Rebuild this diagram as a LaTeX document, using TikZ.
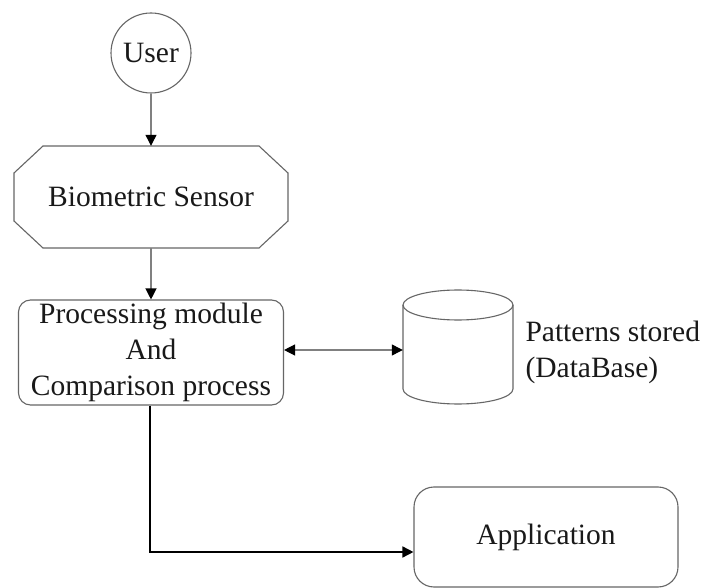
\documentclass[tikz,border=0pt]{standalone}
\usepackage{fontspec}
\setmainfont{Liberation Serif}
\usetikzlibrary{arrows.meta}
\begin{document}
\begin{tikzpicture}[x=1pt,y=-1pt,
  every node/.style={font=\fontsize{29.5}{36}\selectfont, text=black!90},
  outline/.style={draw=black!60, line width=1.1pt},
  conn/.style={draw=black!50, line width=1.2pt, -{Triangle[length=11pt,width=11pt,fill=black,color=black]}},
  dconn/.style={draw=black!50, line width=1.2pt, {Triangle[length=11pt,width=11pt,fill=black,color=black]}-{Triangle[length=11pt,width=11pt,fill=black,color=black]}},
  bconn/.style={draw=black, line width=1.6pt, -{Triangle[length=11pt,width=11pt]}},
  boxnode/.style={outline, rounded corners=12pt, align=center, inner sep=0pt}
]
\useasboundingbox (0,0) rectangle (710,588);
\fill[white] (0,0) rectangle (710,588);

% User
\node[outline, circle, minimum size=80pt, inner sep=0pt] (user) at (151,53) {User};

% Biometric sensor (octagon)
\node[minimum width=274pt, minimum height=102pt, inner sep=0pt] (sensor) at (151,197) {Biometric Sensor};
\draw[outline] (43,146) -- (259,146) -- (288,173) -- (288,221) -- (259,248)
  -- (43,248) -- (14,221) -- (14,173) -- cycle;

% Processing module
\node[boxnode, minimum width=265pt, minimum height=105pt] (proc) at (151,352.5)
  {Processing module\\And\\Comparison process};

% Database cylinder
\node[minimum width=110pt, minimum height=114pt, inner sep=0pt] (db) at (458,347) {};
\draw[outline] (403,305) -- (403,389)
  arc[start angle=180, end angle=360, x radius=55pt, y radius=15pt]
  -- (513,305);
\draw[outline] (458,305) ellipse[x radius=55pt, y radius=15pt];

\node[anchor=west, align=left] (dblabel) at (522,352) {Patterns stored\\(DataBase)};

% Application
\node[boxnode, rounded corners=20pt, minimum width=264pt, minimum height=100pt] (app) at (546,537) {Application};

% Connectors
\draw[conn] (user.south) -- (sensor.north);
\draw[conn] (sensor.south) -- (proc.north);
\draw[dconn] (proc.east |- 0,350) -- (db.west |- 0,350);
\coordinate (bend) at (150,552);
\draw[bconn] (proc.south -| bend) -- (bend) -- (app.west |- bend);
\end{tikzpicture}
\end{document}
